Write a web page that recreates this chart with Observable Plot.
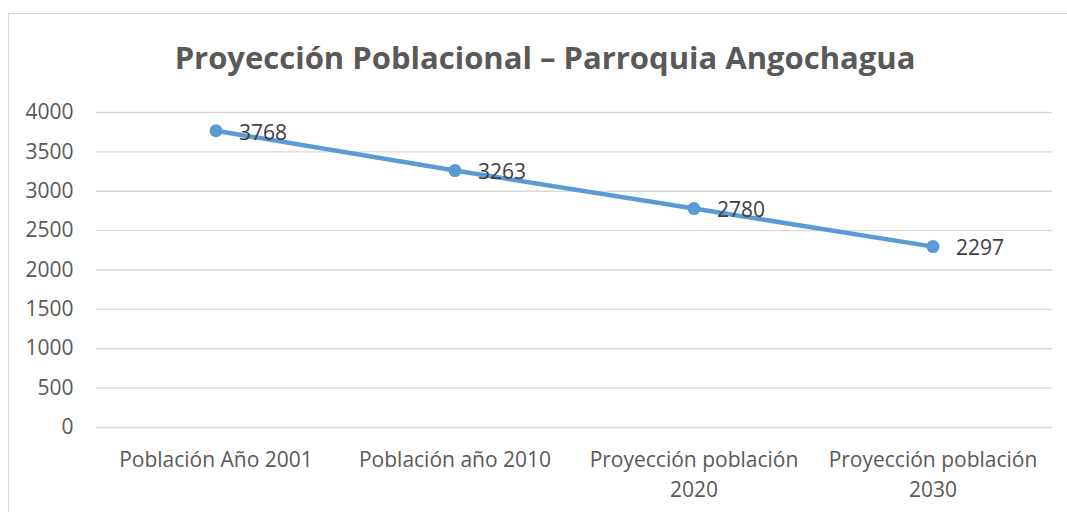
<!DOCTYPE html>
<html>
<head>
<meta charset="utf-8">
<script src="https://cdn.jsdelivr.net/npm/d3@7"></script>
<script src="https://cdn.jsdelivr.net/npm/@observablehq/plot@0.6"></script>
<style>
  html, body { margin: 0; padding: 0; background: #fff; }
  #wrap { position: relative; width: 1067px; height: 512px; overflow: hidden; font-family: "Open Sans", sans-serif; }
  #frame { position: absolute; left: 8px; top: 13px; width: 1080px; height: 520px; border: 1.5px solid #d9d9d9; box-sizing: border-box; }
  #title { position: absolute; left: 0; width: 1090px; top: 36px; text-align: center; font-size: 31px; font-weight: 700; color: #595959; line-height: 42px; white-space: nowrap; }
  #chart { position: absolute; left: 0; top: 0; }
</style>
</head>
<body>
<div id="wrap">
  <div id="frame"></div>
  <div id="title">Proyección Poblacional – Parroquia Angochagua</div>
  <div id="chart"></div>
</div>
<script>
const categories = ["Población Año 2001", "Población año 2010", "Proyección población\n2020", "Proyección población\n2030"];
const values = [3768, 3263, 2780, 2297];
const yTicks = [0, 500, 1000, 1500, 2000, 2500, 3000, 3500, 4000];

const data = categories.map((c, i) => ({cat: c, value: values[i]}));

const plot = Plot.plot({
  width: 1067,
  height: 512,
  marginTop: 112,
  marginBottom: 85,
  marginLeft: 96,
  marginRight: 15,
  style: {fontFamily: "Open Sans, sans-serif", background: "transparent", overflow: "visible"},
  x: {type: "band", domain: categories, padding: 0, align: 0.5},
  y: {domain: [0, 4000]},
  marks: [
    Plot.gridY(yTicks, {stroke: "#d9d9d9", strokeOpacity: 1, strokeWidth: 1.3}),
    Plot.axisY(yTicks, {tickSize: 0, tickPadding: 23, fontSize: 21, fill: "#595959", label: null, tickFormat: d => String(d)}),
    Plot.axisX({tickSize: 0, tickPadding: 18, fontSize: 21, fill: "#595959", label: null, lineHeight: 1.43}),
    Plot.line(data, {x: "cat", y: "value", stroke: "#5B9BD5", strokeWidth: 4.5}),
    Plot.dot(data, {x: "cat", y: "value", fill: "#5B9BD5", r: 6.5}),
    Plot.text(data, {x: "cat", y: "value", text: d => String(d.value), textAnchor: "start", dx: 23, dy: 2, fontSize: 21, fill: "#404040"})
  ]
});
document.getElementById("chart").appendChild(plot);
</script>
</body>
</html>
